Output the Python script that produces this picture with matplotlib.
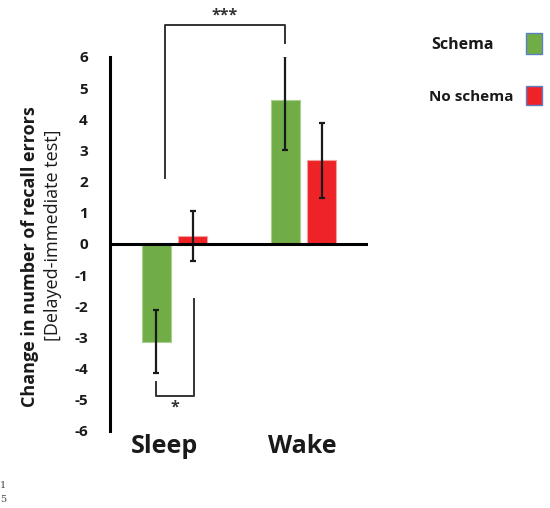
import matplotlib
matplotlib.use("Agg")
import numpy as np
import matplotlib.pyplot as plt
from matplotlib.patches import Rectangle

plt.rcParams['font.family'] = ['Open Sans', 'DejaVu Sans']

# data
conditions = ["Sleep", "Wake"]
schema = [-3.13, 4.62]
schema_err_lo = [1.01, 1.62]
schema_err_hi = [1.01, 1.40]
no_schema = [0.26, 2.68]
no_schema_err = [0.80, 1.19]
ytick_vals = list(range(-6, 7))

green = "#70AD47"
red = "#EE2328"

fig = plt.figure(figsize=(5.5, 5.08), dpi=100)
ax = fig.add_axes([0.2, 0.1516, 0.469, 0.7362])

x = np.arange(len(conditions))
off = 0.141
w = 0.227

ax.bar(x - off, schema, w, color=green, edgecolor="#A9D08E", linewidth=0.8, zorder=2)
ax.bar(x + off, no_schema, w, color=red, edgecolor="#F4A0A0", linewidth=0.8, zorder=2)
ax.errorbar(x - off, schema, yerr=[schema_err_lo, schema_err_hi], fmt="none",
            ecolor="#1a1a1a", elinewidth=1.6, capsize=2.5, capthick=1.6, zorder=3)
ax.errorbar(x + off, no_schema, yerr=no_schema_err, fmt="none",
            ecolor="#1a1a1a", elinewidth=1.6, capsize=2.5, capthick=1.6, zorder=3)

ax.set_xlim(-0.5, 1.5)
ax.set_ylim(-6, 6)
ax.axhline(0, color="black", lw=2.2, zorder=4)

for s in ["top", "right", "bottom"]:
    ax.spines[s].set_visible(False)
ax.spines["left"].set_linewidth(2.2)
ax.set_xticks([])
ax.set_yticks(ytick_vals)
ax.set_yticklabels([str(v) for v in ytick_vals], fontsize=11, fontweight="bold", color="#1a1a1a")
ax.tick_params(axis="y", length=0, pad=16)

# significance brackets
bc = "#333333"
ax.plot([x[0] - 0.07, x[0] - 0.07, x[1] - off, x[1] - off], [2.12, 7.03, 7.03, 6.45],
        color=bc, lw=1.4, clip_on=False)
ax.text(0.39, 7.08, "***", ha="center", va="bottom", fontsize=11.5, fontweight="bold", color=bc)
ax.plot([x[0] - off, x[0] - off, x[0] + 0.15, x[0] + 0.15], [-4.44, -4.88, -4.88, -1.75],
        color=bc, lw=1.4, clip_on=False)
ax.text(0.0, -5.5, "*", ha="center", va="bottom", fontsize=11.5, fontweight="bold", color=bc)

# category labels
ax.text(-0.08, -6.72, conditions[0], ha="center", va="baseline", fontsize=18,
        fontweight="bold", color="#1a1a1a", clip_on=False)
ax.text(0.99, -6.72, conditions[1], ha="center", va="baseline", fontsize=18,
        fontweight="bold", color="#1a1a1a", clip_on=False)

# y label
fig.text(30 / 550, 1 - 257 / 508, "Change in number of recall errors", rotation=90,
         ha="center", va="center", fontsize=13, fontweight="bold", color="#1a1a1a")
fig.text(53 / 550, 1 - 235 / 508, "[Delayed-immediate test]", rotation=90,
         ha="center", va="center", fontsize=13, color="#1a1a1a")

# legend
fig.text(431 / 550, 1 - 45 / 508, "Schema", ha="left", va="center", fontsize=11.5,
         fontweight="bold", color="#1a1a1a")
fig.text(429 / 550, 1 - 97 / 508, "No schema", ha="left", va="center", fontsize=11,
         fontweight="bold", color="#1a1a1a")
fig.patches.append(Rectangle((526 / 550, 1 - 54 / 508), 16 / 550, 21 / 508,
                             transform=fig.transFigure, facecolor=green, edgecolor="#5B7FC4", lw=1))
fig.patches.append(Rectangle((526 / 550, 1 - 105 / 508), 16 / 550, 19 / 508,
                             transform=fig.transFigure, facecolor=red, edgecolor="#5B7FC4", lw=1))

# leftover page marks at bottom left
fig.text(0.0, 1 - 486 / 508, "1", ha="left", va="center", fontsize=7, color="#444444",
         family="DejaVu Serif")
fig.text(0.0, 1 - 499 / 508, "5", ha="left", va="center", fontsize=7, color="#444444",
         family="DejaVu Serif")

fig.savefig("out.png", dpi=100)
